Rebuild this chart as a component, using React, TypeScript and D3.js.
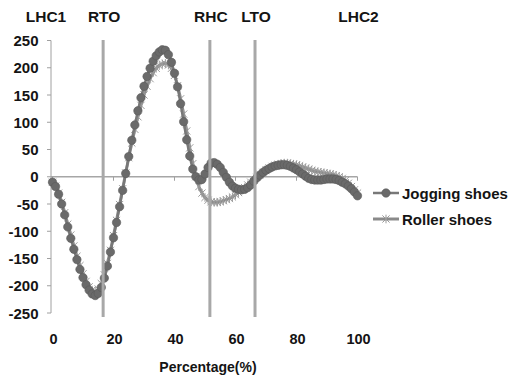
import * as d3 from 'd3';

const percent = d3.range(0, 101);

const jogging = [
  -10, -18, -32, -50, -70, -92, -113, -133, -152, -170,
  -185, -198, -208, -215, -218, -214, -203, -186, -164, -138,
  -112, -84, -55, -25, 6, 37, 67, 95, 121, 145,
  166, 184, 199, 212, 222, 229, 233, 232, 224, 210,
  190, 165, 134, 101, 68, 38, 14, 0, -6, -5,
  5, 17, 25, 26, 23, 17, 8, -1, -10, -17,
  -21, -23, -24, -23, -20, -15, -8, -2, 3, 8,
  12, 15, 18, 20, 21, 22, 22, 21, 19, 16,
  13, 9, 5, 1, -3, -5, -6, -6, -6, -5,
  -4, -4, -4, -5, -7, -10, -13, -17, -22, -28,
  -35,
];

const roller = [
  -10, -17, -30, -47, -66, -87, -107, -127, -146, -163,
  -178, -192, -202, -208, -210, -206, -196, -180, -159, -135,
  -108, -80, -51, -22, 7, 35, 62, 87, 110, 131,
  150, 166, 180, 191, 199, 204, 207, 208, 205, 199,
  186, 167, 143, 115, 84, 53, 24, 0, -18, -30,
  -38, -43, -46, -47, -47, -46, -44, -42, -40, -37,
  -33, -29, -24, -20, -15, -10, -6, -1, 4, 8,
  12, 16, 19, 21, 23, 24, 25, 25, 24, 23,
  22, 20, 18, 16, 14, 12, 10, 9, 8, 7,
  6, 5, 4, 2, 0, -3, -7, -12, -18, -24,
  -30,
];

const xTicks = [0, 20, 40, 60, 80, 100];
const yTicks = [250, 200, 150, 100, 50, 0, -50, -100, -150, -200, -250];

const events = [
  { label: 'LHC1', at: 0, line: false },
  { label: 'RTO', at: 16.6, line: true },
  { label: 'RHC', at: 51.6, line: true },
  { label: 'LTO', at: 66.4, line: true },
  { label: 'LHC2', at: 100, line: false },
];

const FONT = '"Liberation Sans", Arial, sans-serif';
const INK = '#141414';

function Star({ x, y, s, color }: { x: number; y: number; s: number; color: string }) {
  return (
    <g stroke={color} strokeWidth={1}>
      <line x1={x - s} y1={y - s} x2={x + s} y2={y + s} />
      <line x1={x - s} y1={y + s} x2={x + s} y2={y - s} />
      <line x1={x} y1={y - s * 1.2} x2={x} y2={y + s * 1.2} />
    </g>
  );
}

export default function App() {
  const W = 511;
  const H = 381;
  const x = d3.scaleLinear().domain([0, 100]).range([52.5, 357.5]);
  const y = d3.scaleLinear().domain([-250, 250]).range([313, 40.5]);

  const line = d3.line<number>()
    .x((_, i) => x(percent[i]))
    .y((d) => y(d))
    .curve(d3.curveMonotoneX);

  const joggingColor = '#6a6a6a';
  const rollerColor = '#8a8a8a';
  const axisX = x(0) - 1.5;

  return (
    <svg width={W} height={H} style={{ position: 'absolute', left: 0, top: 0, background: '#fff' }}>
      {/* y axis */}
      <line x1={axisX} x2={axisX} y1={y(250)} y2={y(-250)} stroke="#a0a0a0" strokeWidth={1} />
      {yTicks.map((t) => (
        <g key={t}>
          <line x1={axisX - 4} x2={axisX} y1={y(t)} y2={y(t)} stroke="#a0a0a0" />
          <text
            x={38.5}
            y={y(t)}
            textAnchor="end"
            dominantBaseline="central"
            fontFamily={FONT}
            fontWeight="bold"
            fontSize={15}
            fill={INK}
          >
            {t}
          </text>
        </g>
      ))}

      {/* zero line with ticks */}
      <line x1={axisX} x2={x(100)} y1={y(0)} y2={y(0)} stroke="#a6a6a6" strokeWidth={1.5} />
      {xTicks.map((t) => (
        <g key={t}>
          <line x1={x(t)} x2={x(t)} y1={y(0)} y2={y(0) + 4} stroke="#a0a0a0" />
          <text
            x={x(t) + 1}
            y={339}
            textAnchor="middle"
            dominantBaseline="central"
            fontFamily={FONT}
            fontWeight="bold"
            fontSize={14.5}
            fill={INK}
          >
            {t}
          </text>
        </g>
      ))}

      {/* series */}
      <path d={line(roller) ?? ''} fill="none" stroke={rollerColor} strokeWidth={3} />
      {roller.map((v, i) => (
        <Star key={`r${i}`} x={x(percent[i])} y={y(v)} s={3.6} color="#9a9a9a" />
      ))}
      <path d={line(jogging) ?? ''} fill="none" stroke="#787878" strokeWidth={2.5} />
      {jogging.map((v, i) => (
        <circle key={`j${i}`} cx={x(percent[i])} cy={y(v)} r={4.2} fill={joggingColor} stroke="#5a5a5a" strokeWidth={0.6} />
      ))}

      {/* gait event lines and labels */}
      {events.filter((e) => e.line).map((e) => (
        <line key={e.label} x1={x(e.at)} x2={x(e.at)} y1={40} y2={317} stroke="#a8a8a8" strokeWidth={3} />
      ))}
      {events.map((e) => (
        <text
          key={`l${e.label}`}
          x={e.label === 'LHC1' ? 46 : x(e.at) + 1}
          y={16}
          textAnchor="middle"
          dominantBaseline="central"
          fontFamily={FONT}
          fontWeight="bold"
          fontSize={15.5}
          fill={INK}
        >
          {e.label}
        </text>
      ))}

      {/* axis title */}
      <text x={208} y={367} textAnchor="middle" dominantBaseline="central" fontFamily={FONT} fontWeight="bold" fontSize={14} fill={INK}>
        Percentage(%)
      </text>

      {/* legend */}
      <g>
        <line x1={373} x2={399} y1={193} y2={193} stroke="#787878" strokeWidth={2.5} />
        <circle cx={386} cy={193} r={4.2} fill={joggingColor} stroke="#5a5a5a" strokeWidth={0.6} />
        <text x={402} y={193} dominantBaseline="central" fontFamily={FONT} fontWeight="bold" fontSize={15} fill={INK}>
          Jogging shoes
        </text>
        <line x1={373} x2={399} y1={219} y2={219} stroke={rollerColor} strokeWidth={3} />
        <Star x={386} y={219} s={3.6} color="#9a9a9a" />
        <text x={402} y={219} dominantBaseline="central" fontFamily={FONT} fontWeight="bold" fontSize={15} fill={INK}>
          Roller shoes
        </text>
      </g>
    </svg>
  );
}
